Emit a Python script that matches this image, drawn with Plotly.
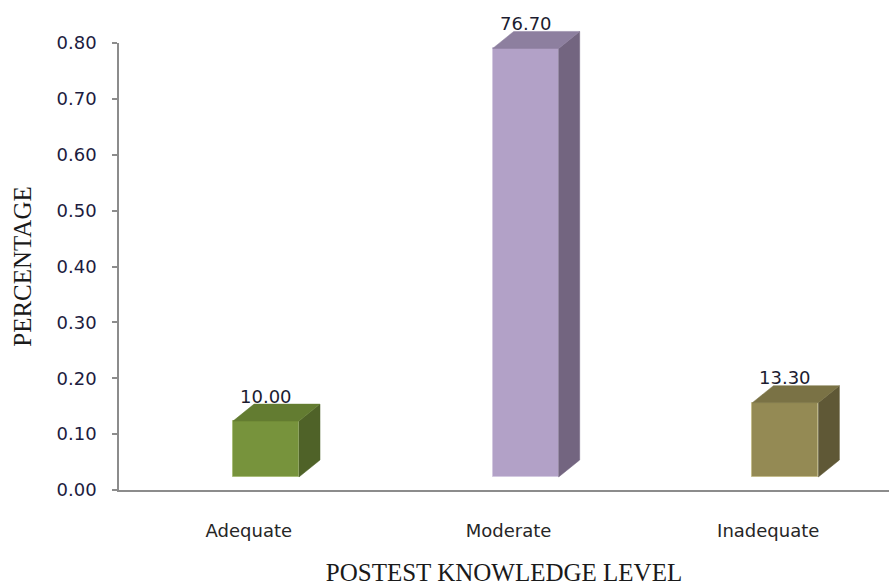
import plotly.graph_objects as go

# ---- data ----
categories = ["Adequate", "Moderate", "Inadequate"]
values = [0.100, 0.767, 0.133]
value_labels = ["10.00", "76.70", "13.30"]
y_ticks = [0.0, 0.1, 0.2, 0.3, 0.4, 0.5, 0.6, 0.7, 0.8]

# ---- styles ----
front_colors = ["#77933C", "#B2A1C7", "#948A54"]
top_colors = ["#637C31", "#8D7F9F", "#7A7245"]
side_colors = ["#4F6228", "#736580", "#5F5836"]
edge_colors = ["#A9BD7A", "#D3C9E0", "#C4BC8C"]

# 3-D geometry (in axis units)
OFFSET = 0.066   # front face centre shift from category position
WIDTH = 0.254    # front face width
DX = 0.081       # depth shift in x
DY = 0.0304      # depth shift in y
BASE = 0.0233    # floor lift of the front face

W, H = 889, 586
M_L, M_R, M_T, M_B = 119, 0, 10, 96
plot_h = H - M_T - M_B
axis_top_px = 43
dom_top = (H - M_B - axis_top_px) / plot_h
y2_max = 0.8 / dom_top

fig = go.Figure()

xs = list(range(len(categories)))

# front faces
fig.add_trace(go.Bar(
    x=[x + OFFSET for x in xs], y=values, base=BASE, width=WIDTH,
    marker=dict(color=front_colors, line=dict(color=edge_colors, width=1)),
    yaxis="y2", showlegend=False, hoverinfo="skip",
))

for i, (x, v) in enumerate(zip(xs, values)):
    x0 = x + OFFSET - WIDTH / 2
    x1 = x + OFFSET + WIDTH / 2
    top = BASE + v
    # side face
    fig.add_trace(go.Scatter(
        x=[x1, x1 + DX, x1 + DX, x1, x1],
        y=[BASE, BASE + DY, top + DY, top, BASE],
        fill="toself", fillcolor=side_colors[i], mode="lines",
        line=dict(color=side_colors[i], width=0.5),
        yaxis="y2", showlegend=False, hoverinfo="skip",
    ))
    # top face
    fig.add_trace(go.Scatter(
        x=[x0, x1, x1 + DX, x0 + DX, x0],
        y=[top, top, top + DY, top + DY, top],
        fill="toself", fillcolor=top_colors[i], mode="lines",
        line=dict(color=top_colors[i], width=0.5),
        yaxis="y2", showlegend=False, hoverinfo="skip",
    ))
    fig.add_annotation(
        x=x + OFFSET, y=top + DY, xref="x", yref="y2",
        text=value_labels[i], showarrow=False,
        yanchor="middle", yshift=8,
        font=dict(family="DejaVu Sans", size=18, color="#1c1c30"),
    )

# invisible trace to anchor the visible y axis
fig.add_trace(go.Scatter(x=[0], y=[0], mode="markers", marker=dict(opacity=0),
                         showlegend=False, hoverinfo="skip", yaxis="y"))

fig.update_layout(
    width=W, height=H,
    margin=dict(l=M_L, r=M_R, t=M_T, b=M_B, autoexpand=False),
    paper_bgcolor="white", plot_bgcolor="white",
    bargap=0,
    xaxis=dict(
        range=[-0.5, 2.465], tickvals=xs, ticktext=categories,
        showline=True, linecolor="#8c8c8c", linewidth=1.5,
        showgrid=False, zeroline=False, ticks="",
        ticklabelstandoff=24,
        tickfont=dict(family="DejaVu Sans", size=18, color="#262626"),
        title=dict(text="POSTEST KNOWLEDGE LEVEL", standoff=29,
                   font=dict(family="Liberation Serif", size=25, color="#1a1a1a")),
        anchor="y",
    ),
    yaxis=dict(
        domain=[0, dom_top], range=[0, 0.8], tickvals=y_ticks, tickformat=".2f",
        showline=True, linecolor="#8c8c8c", linewidth=1.5,
        ticks="outside", ticklen=5, tickcolor="#8c8c8c", tickwidth=1.5,
        showgrid=False, zeroline=False,
        ticklabelstandoff=12,
        tickfont=dict(family="DejaVu Sans", size=18, color="#1c1c40"),
        title=dict(text="PERCENTAGE", standoff=18,
                   font=dict(family="Liberation Serif", size=25, color="#1a1a1a")),
        anchor="x",
    ),
    yaxis2=dict(
        domain=[0, 1], range=[0, y2_max], visible=False, anchor="x",
        showgrid=False, zeroline=False,
    ),
)

fig.write_html("out.html")
